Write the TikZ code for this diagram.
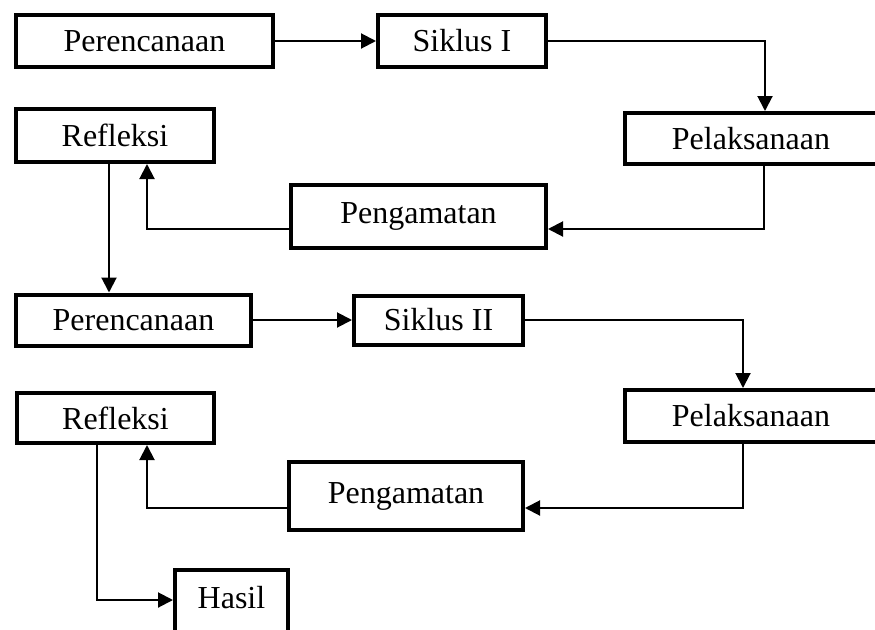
\documentclass[tikz,border=0pt]{standalone}
\usepackage{fontspec}
\setmainfont{Liberation Serif}
\usetikzlibrary{arrows.meta}
\tikzset{
  box/.style={draw,line width=4pt,inner sep=0pt,font=\fontsize{32}{38}\selectfont},
  arr/.style={line width=2pt,-{Triangle[length=15pt,width=15pt]}}
}
\begin{document}
\begin{tikzpicture}[x=1pt,y=-1pt]
  \useasboundingbox (0,0) rectangle (875,629);
  \clip (0,0) rectangle (875,629);
  % siklus I
  \node[box,minimum width=257pt,minimum height=52pt] (per1) at (144.5,41) {Perencanaan};
  \node[box,minimum width=168pt,minimum height=52pt] (sik1) at (462,41) {Siklus I};
  \node[box,minimum width=252pt,minimum height=51pt] (pel1) at (751,138.5) {Pelaksanaan};
  \node[box,minimum width=198pt,minimum height=53pt] (ref1) at (115,135.5) {Refleksi};
  \node[box,minimum width=255pt,minimum height=63pt] (pen1) at (418.5,216.5) {Pengamatan};
  % siklus II
  \node[box,minimum width=235pt,minimum height=51pt] (per2) at (133.5,320) {Perencanaan};
  \node[box,minimum width=169pt,minimum height=49pt] (sik2) at (438.5,320) {Siklus II};
  \node[box,minimum width=252pt,minimum height=52pt] (pel2) at (751,416) {Pelaksanaan};
  \node[box,minimum width=197pt,minimum height=50pt] (ref2) at (115.5,418) {Refleksi};
  \node[box,minimum width=234pt,minimum height=68pt] (pen2) at (406,496) {Pengamatan};
  \node[box,minimum width=113pt,text height=38pt,text depth=40pt,anchor=north] (hasil) at (231.5,568) {Hasil};
  % connectors
  \draw[arr] (per1) -- (sik1);
  \draw[arr] (sik1.east) -| ([xshift=14pt]pel1.north);
  \draw[arr] ([xshift=13pt]pel1.south) |- ([yshift=-12.5pt]pen1.east);
  \draw[arr] ([yshift=-12.5pt]pen1.west) -| ([xshift=32pt]ref1.south);
  \draw[arr] ([xshift=-6pt]ref1.south) -- ([xshift=-24.5pt]per2.north);
  \draw[arr] (per2) -- (sik2);
  \draw[arr] (sik2.east) -| ([xshift=-8pt]pel2.north);
  \draw[arr] ([xshift=-8pt]pel2.south) |- ([yshift=-12pt]pen2.east);
  \draw[arr] ([yshift=-12pt]pen2.west) -| ([xshift=31.5pt]ref2.south);
  \draw[arr] ([xshift=-18.5pt]ref2.south) |- ([yshift=9pt]hasil.west);
\end{tikzpicture}
\end{document}
